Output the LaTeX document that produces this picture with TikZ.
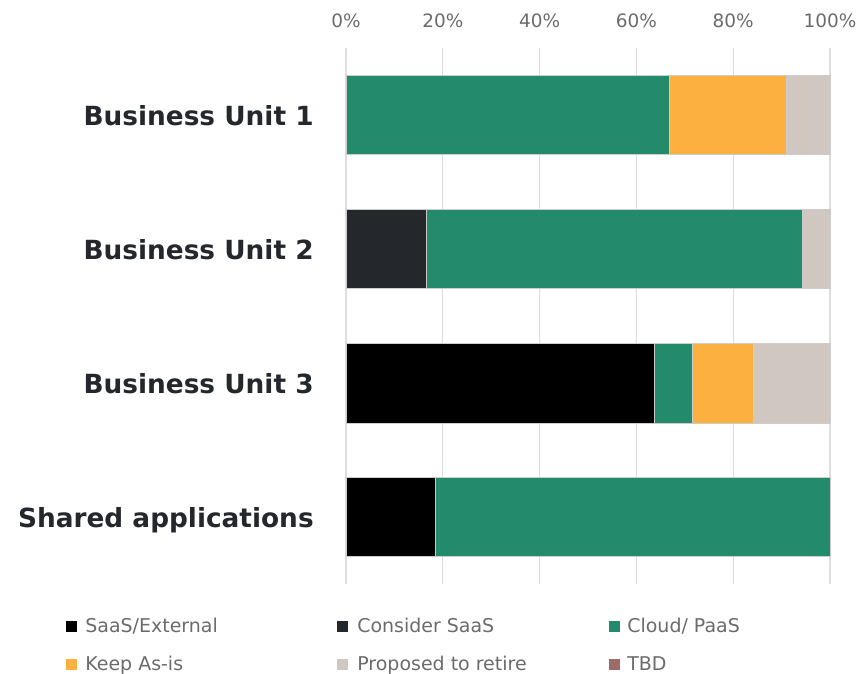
\documentclass[tikz,border=0pt]{standalone}
\usepackage{fontspec}
\setmainfont{DejaVu Sans}
\usepackage{tikz}
\usepackage{xcolor}

\definecolor{saasblack}{HTML}{000000}
\definecolor{considerdark}{HTML}{24272B}
\definecolor{cloudgreen}{HTML}{248A6C}
\definecolor{keeporange}{HTML}{FBB040}
\definecolor{retirebeige}{HTML}{D1C7C1}
\definecolor{tbdred}{HTML}{9E6B6B}
\definecolor{gridgray}{HTML}{DDDDDD}
\definecolor{ticktext}{HTML}{6B6B6B}

\begin{document}
\begin{tikzpicture}[x=0.02cm,y=-0.02cm,
    gridline/.style={draw=gridgray,line width=0.6pt},
    seg/.style={draw=gray!40,line width=0.3pt},
    unitlabel/.style={anchor=base east,inner sep=0pt,text=considerdark,
        font=\fontsize{15}{17}\selectfont\bfseries},
    ticklabel/.style={anchor=base,inner sep=0pt,text=ticktext,
        font=\fontsize{10.5}{12}\selectfont},
    legendlabel/.style={anchor=base west,inner sep=0pt,text=ticktext,
        font=\fontsize{10.8}{12}\selectfont}]

\useasboundingbox (0,0) rectangle (859,673);

% Grid lines
\draw[gridline] (346,48) -- (346,584);
\draw[gridline] (442.8,48) -- (442.8,584);
\draw[gridline] (539.6,48) -- (539.6,584);
\draw[gridline] (636.4,48) -- (636.4,584);
\draw[gridline] (733.2,48) -- (733.2,584);
\draw[gridline] (830,48) -- (830,584);

% Percent labels
\node[ticklabel] (t0) at (346,27) {0\%};
\node[ticklabel] (t20) at (442.8,27) {20\%};
\node[ticklabel] (t40) at (539.6,27) {40\%};
\node[ticklabel] (t60) at (636.4,27) {60\%};
\node[ticklabel] (t80) at (733.2,27) {80\%};
\node[ticklabel] (t100) at (830,27) {100\%};

% Business Unit 1
\draw[seg,fill=cloudgreen] (346,75) rectangle (669,154);
\draw[seg,fill=keeporange] (669,75) rectangle (786,154);
\draw[seg,fill=retirebeige] (786,75) rectangle (830,154);

% Business Unit 2
\draw[seg,fill=considerdark] (346,209) rectangle (426,288);
\draw[seg,fill=cloudgreen] (426,209) rectangle (802,288);
\draw[seg,fill=retirebeige] (802,209) rectangle (830,288);

% Business Unit 3
\draw[seg,fill=saasblack] (346,343) rectangle (654,423);
\draw[seg,fill=cloudgreen] (654,343) rectangle (692,423);
\draw[seg,fill=keeporange] (692,343) rectangle (753,423);
\draw[seg,fill=retirebeige] (753,343) rectangle (830,423);

% Shared applications
\draw[seg,fill=saasblack] (346,477) rectangle (435,556);
\draw[seg,fill=cloudgreen] (435,477) rectangle (830,556);

% Category labels
\node[unitlabel] (bu1) at (314,125) {Business Unit 1};
\node[unitlabel] (bu2) at (314,259) {Business Unit 2};
\node[unitlabel] (bu3) at (314,393.5) {Business Unit 3};
\node[unitlabel] (shared) at (314,527) {Shared applications};

% Legend
\fill[saasblack] (66,621) rectangle (77,632);
\node[legendlabel] (legsaas) at (85,632) {SaaS/External};
\fill[considerdark] (337,621) rectangle (348,632);
\node[legendlabel] (legconsider) at (357,632) {Consider SaaS};
\fill[cloudgreen] (609,621) rectangle (620,632);
\node[legendlabel] (legcloud) at (627,632) {Cloud/ PaaS};

\fill[keeporange] (66,659) rectangle (77,670);
\node[legendlabel] (legkeep) at (85,670) {Keep As-is};
\fill[retirebeige] (337,659) rectangle (348,670);
\node[legendlabel] (legretire) at (357,670) {Proposed to retire};
\fill[tbdred] (609,659) rectangle (620,670);
\node[legendlabel] (legtbd) at (627,670) {TBD};

\end{tikzpicture}
\end{document}
